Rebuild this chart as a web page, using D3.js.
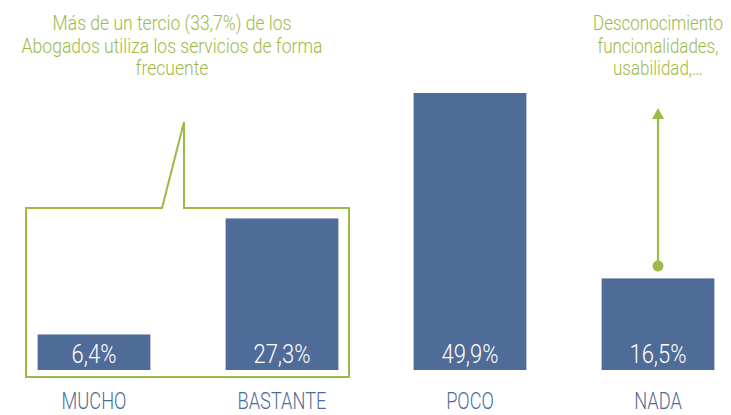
<!DOCTYPE html>
<html><head><meta charset="utf-8">
<script src="https://cdn.jsdelivr.net/npm/d3@7"></script>
<style>
html,body{margin:0;padding:0;background:#fff;}
text{font-family:Roboto,"Open Sans",sans-serif;font-weight:300;}
</style></head>
<body>
<svg id="chart" width="731" height="415"></svg>
<script>
const categories = ["MUCHO", "BASTANTE", "POCO", "NADA"];
const values = [6.4, 27.3, 49.9, 16.5];
const valueLabels = ["6,4%", "27,3%", "49,9%", "16,5%"];
const calloutLeft = ["Más de un tercio (33,7%) de los", "Abogados utiliza los servicios de forma", "frecuente"];
const calloutRight = ["Desconocimiento", "funcionalidades,", "usabilidad,…"];

const barColor = "#4f6b98";
const green = "#9dba47";
const svg = d3.select("#chart");

const x = d3.scaleBand().domain(categories).range([0, 752]).paddingInner(0.4).paddingOuter(0.2);
const y = d3.scaleLinear().domain([0, 49.9]).range([370, 93]);

// squeeze text horizontally around anchor (cx, baseline)
function squeeze(sel, cx, cy, sx) {
  sel.attr("x", 0).attr("y", 0)
     .attr("transform", `translate(${cx},${cy}) scale(${sx},1)`);
}

// bars
svg.selectAll("rect.bar").data(values).join("rect").attr("class","bar")
  .attr("x",(d,i)=>x(categories[i])).attr("width",x.bandwidth())
  .attr("y",d=>y(d)).attr("height",d=>y(0)-y(d)).attr("fill",barColor);

svg.selectAll("text.val").data(valueLabels).join("text").attr("class","val")
  .attr("text-anchor","middle").attr("fill","#fff").attr("font-size",25).text(d=>d)
  .each(function(d,i){ squeeze(d3.select(this), x(categories[i])+x.bandwidth()/2, 363, 0.88); });

// category axis
const xAxis = d3.axisBottom(x).tickSize(0).tickPadding(0);
const gx = svg.append("g").call(xAxis);
gx.select(".domain").remove();
gx.selectAll(".tick").attr("transform", null);
gx.selectAll(".tick text").attr("fill",barColor).attr("font-size",24).attr("dy",null)
  .style("font-family","Roboto, sans-serif").style("font-weight",300)
  .each(function(d){ squeeze(d3.select(this), x(d)+x.bandwidth()/2, 409, 0.76); });

// callout box
const bL = 26, bR = 349, bT = 208, bB = 377, pL = 162, pR = 184, pY = 122;
svg.append("path")
  .attr("d",`M${pL},${bT}L${pR},${pY}L${pR},${bT}L${bR},${bT}L${bR},${bB}L${bL},${bB}L${bL},${bT}Z`)
  .attr("fill","none").attr("stroke",green).attr("stroke-width",2);

svg.selectAll("text.cl").data(calloutLeft).join("text").attr("class","cl")
  .attr("text-anchor","middle").attr("fill",green).attr("font-size",19.5).text(d=>d)
  .each(function(d,i){ squeeze(d3.select(this), 172, 30+i*22.5, 0.9); });

svg.selectAll("text.cr").data(calloutRight).join("text").attr("class","cr")
  .attr("text-anchor","middle").attr("fill",green).attr("font-size",19.5).text(d=>d)
  .each(function(d,i){ squeeze(d3.select(this), 658, 30+i*22.5, 0.87); });

// arrow
const ax = x("NADA") + x.bandwidth()/2;
svg.append("line").attr("x1",ax).attr("x2",ax).attr("y1",266).attr("y2",116)
  .attr("stroke",green).attr("stroke-width",2.2);
svg.append("path").attr("d",`M${ax},108L${ax-6},119L${ax+6},119Z`).attr("fill",green);
svg.append("circle").attr("cx",ax).attr("cy",266).attr("r",5.5).attr("fill",green);
</script>
</body></html>
